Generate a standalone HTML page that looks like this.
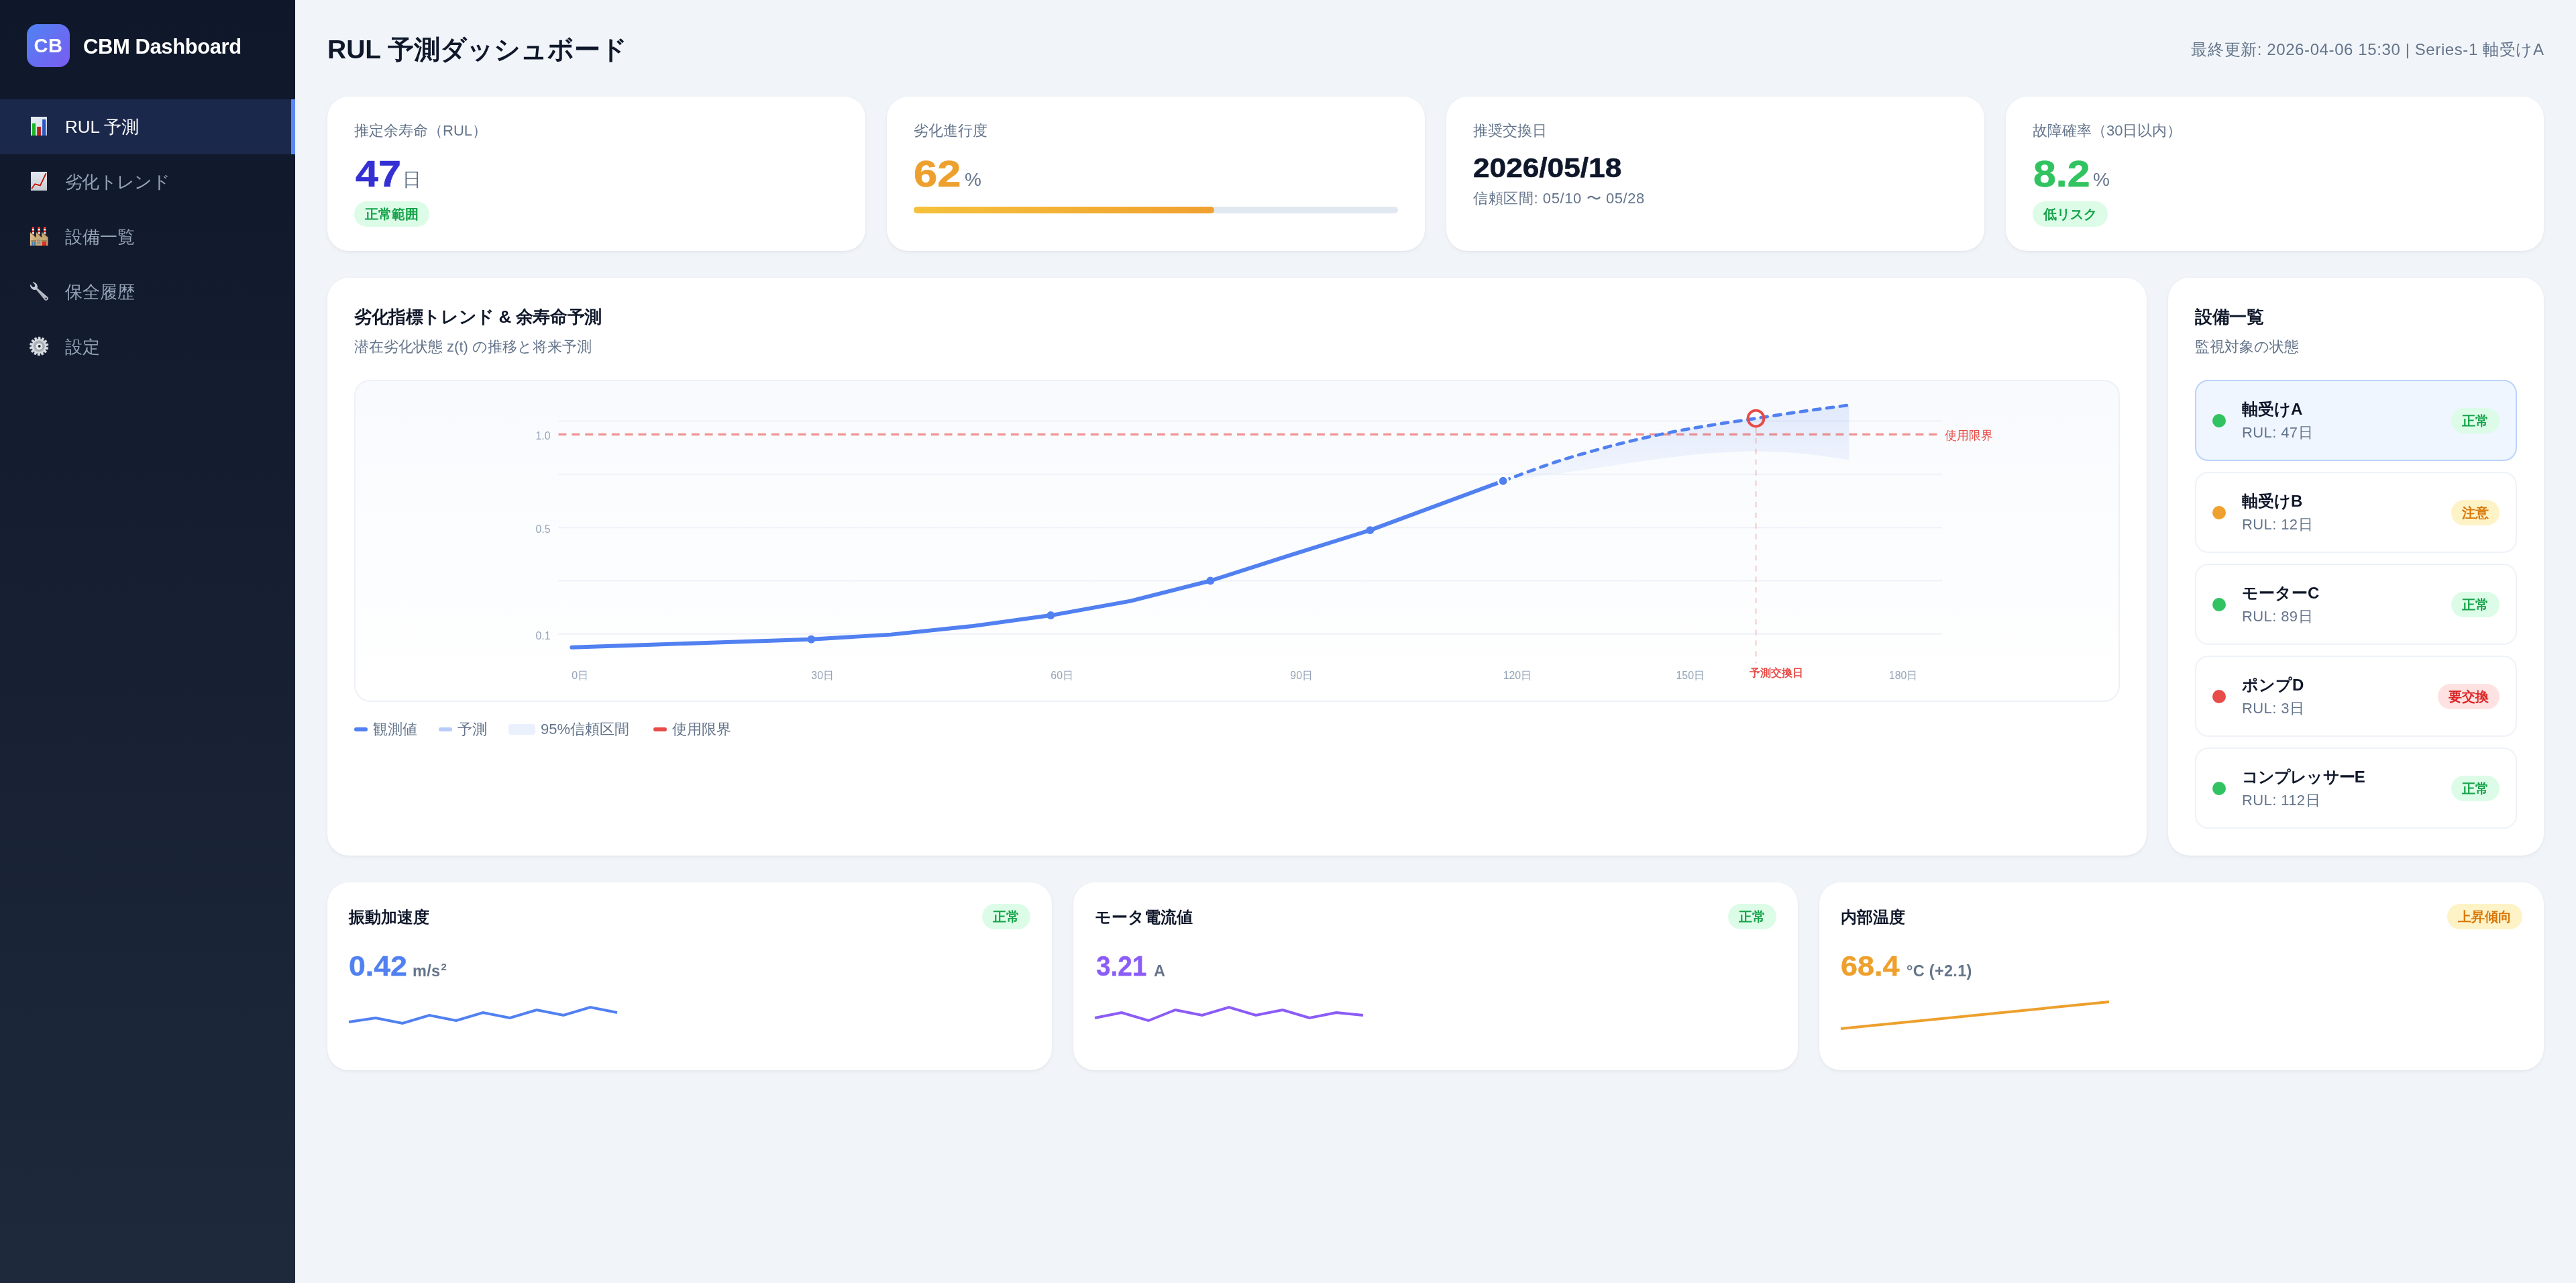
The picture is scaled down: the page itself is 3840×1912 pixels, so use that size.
<!DOCTYPE html>
<html lang="ja">
<head>
<meta charset="utf-8">
<title>CBM Dashboard</title>
<style>
*{box-sizing:border-box;margin:0;padding:0}
html{background:#f1f5f9}
html,body{width:3840px;height:1912px;overflow:hidden}
body{font-family:"Liberation Sans",sans-serif;background:#f1f5f9;color:#0f172a;position:relative;will-change:transform}
.abs{position:absolute;white-space:nowrap}
/* ---------- sidebar ---------- */
.side{position:absolute;left:0;top:0;width:440px;height:1912px;background:linear-gradient(180deg,#0f172a 0%,#1e293b 100%)}
.logo{position:absolute;left:40px;top:36px;width:64px;height:64px;border-radius:16px;background:linear-gradient(135deg,#4f83f3 0%,#7a5cf0 100%);color:#fff;font-weight:700;font-size:29px;line-height:64px;text-align:center;letter-spacing:0.5px}
.brand{position:absolute;left:124px;top:38px;height:64px;line-height:64px;color:#fff;font-weight:700;font-size:31px;white-space:nowrap;letter-spacing:-0.42px}
.nav{position:absolute;left:0;width:440px;height:82px;color:#94a3b8;font-size:26px;line-height:82px;white-space:nowrap}
.nav span{position:absolute;left:97px;top:0}
.nav svg{position:absolute;left:42px;top:24px;width:32px;height:32px}
.nav.on{background:rgba(79,125,240,.16);color:#fff;border-right:6px solid #5a88f5}
/* ---------- header ---------- */
.h1{left:488px;top:46px;font-size:39px;line-height:56px;font-weight:700;color:#0f172a}
.meta{right:48px;top:57px;font-size:24px;line-height:34px;color:#64748b;letter-spacing:.6px;margin-right:-.6px}
/* ---------- cards ---------- */
.card{position:absolute;background:#fff;border-radius:32px;box-shadow:0 2px 6px rgba(15,23,42,.05),0 1px 2px rgba(15,23,42,.03)}
.lbl{font-size:22px;line-height:30px;color:#64748b}
.big{font-size:56px;line-height:64px;font-weight:700;-webkit-text-stroke:.7px currentColor;transform-origin:0 50%}
.unit{font-size:28px;line-height:34px;color:#64748b}
.badge{position:absolute;height:38px;line-height:38px;border-radius:19px;padding:0 16px;font-size:20px;font-weight:700;white-space:nowrap}
.ttl{letter-spacing:-.4px;font-size:26px;line-height:36px;font-weight:700;color:#0f172a}
.plot{position:absolute;left:40px;top:152px;width:2632px;height:480px;border:2px solid #edf1f7;border-radius:24px;background:linear-gradient(180deg,#f8fafd 0%,#ffffff 100%);overflow:hidden}
.lg{position:absolute;top:657px;height:32px;line-height:32px;font-size:22px;color:#64748b;white-space:nowrap;display:flex;align-items:center}
.lg i{display:inline-block;margin-right:8px;flex:none}
.eq{position:absolute;left:40px;width:480px;height:121px;border:2px solid #eef2f8;border-radius:20px;background:#fff}
.eq.on{background:#eff6ff;border-color:#bcd3fa}
.dot{position:absolute;left:24px;top:49px;width:20px;height:20px;border-radius:50%}
.en{left:68px;top:26px;font-size:24px;line-height:32px;font-weight:700;color:#0f172a}
.er{left:68px;top:62px;font-size:22px;line-height:30px;color:#64748b;letter-spacing:.4px}
.st{font-size:24px;line-height:32px;font-weight:700;color:#0f172a}
.sv{font-size:42px;line-height:52px;font-weight:700;-webkit-text-stroke:.4px currentColor;transform-origin:0 50%}
.su{font-size:23.5px;line-height:30px;font-weight:700;color:#64748b;letter-spacing:.3px}
.su sup{font-size:15px;line-height:1;vertical-align:baseline;position:relative;top:-9px;margin-left:1px}
.g{background:#dcfce7;color:#16a34a}
.y{background:#fef3c7;color:#d97706}
.r{background:#fee2e2;color:#dc2626}
</style>
</head>
<body>

<!-- ================= SIDEBAR ================= -->
<div class="side">
  <div class="logo">CB</div>
  <div class="brand">CBM Dashboard</div>

  <div class="nav on" style="top:148px"><svg viewBox="0 0 32 32"><defs><linearGradient id="pp" x1="0" y1="0" x2="1" y2="1"><stop offset="0" stop-color="#e9eef4"/><stop offset=".6" stop-color="#dbe2eb"/><stop offset="1" stop-color="#b9c1cf"/></linearGradient></defs><rect x="4" y="2" width="24" height="28" fill="url(#pp)"/><rect x="5.9" y="11.8" width="5.2" height="18.2" fill="#1cb427"/><rect x="13.2" y="16.9" width="5.7" height="13.1" fill="#b32117"/><rect x="21.1" y="6" width="5.1" height="24" fill="#2c57c4"/></svg><span>RUL 予測</span></div>
  <div class="nav" style="top:230px"><svg viewBox="0 0 32 32"><defs><linearGradient id="pq" x1="0" y1="0" x2="0" y2="1"><stop offset="0" stop-color="#e4e8ef"/><stop offset="1" stop-color="#c6cbd3"/></linearGradient></defs><rect x="4" y="2" width="24" height="28" fill="url(#pq)"/><polyline points="5.4,26.9 10.1,20.2 18,22.5 26.4,4.8" fill="none" stroke="#eaf6fa" stroke-width="3.4" stroke-linejoin="round" stroke-linecap="round" opacity=".8"/><polyline points="5.4,26.9 10.1,20.2 18,22.5 26.4,4.8" fill="none" stroke="#be1c0e" stroke-width="2" stroke-linejoin="round" stroke-linecap="round"/></svg><span style="letter-spacing:-.7px">劣化トレンド</span></div>
  <div class="nav" style="top:312px"><svg viewBox="0 0 32 32"><defs><linearGradient id="tn" x1="0" y1="0" x2="1" y2="0"><stop offset="0" stop-color="#e6c38d"/><stop offset=".25" stop-color="#cbae7e"/><stop offset="1" stop-color="#c2a472"/></linearGradient></defs><rect x="5.80" y="2.00" width="3.20" height="3.00" fill="#f23a2a"/><rect x="5.80" y="5.00" width="3.20" height="2.70" fill="#f4f7f8"/><rect x="5.80" y="7.70" width="3.20" height="2.40" fill="#ee2b1e"/><rect x="5.80" y="10.10" width="3.20" height="2.60" fill="#eef1f3"/><rect x="5.80" y="12.70" width="3.20" height="2.50" fill="#d9281c"/><rect x="14.50" y="2.00" width="3.20" height="3.00" fill="#f23a2a"/><rect x="14.50" y="5.00" width="3.20" height="2.70" fill="#f4f7f8"/><rect x="14.50" y="7.70" width="3.20" height="2.40" fill="#ee2b1e"/><rect x="14.50" y="10.10" width="3.20" height="2.60" fill="#eef1f3"/><rect x="14.50" y="12.70" width="3.20" height="2.50" fill="#d9281c"/><rect x="23.10" y="2.00" width="3.20" height="3.00" fill="#f23a2a"/><rect x="23.10" y="5.00" width="3.20" height="2.70" fill="#f4f7f8"/><rect x="23.10" y="7.70" width="3.20" height="2.40" fill="#ee2b1e"/><rect x="23.10" y="10.10" width="3.20" height="2.60" fill="#eef1f3"/><rect x="23.10" y="12.70" width="3.20" height="2.50" fill="#d9281c"/><path d="M2.9,30 L2.9,10.1 L11.8,18 L11.8,10.1 L20.2,18 L20.2,10.1 L29.6,17.8 L29.4,30 Z" fill="url(#tn)"/><path d="M2.9,10.1 L11.8,18 M11.8,10.1 L20.2,18 M20.2,10.1 L29.6,17.8" stroke="#7d5d33" stroke-width=".8" fill="none"/><rect x="4.2" y="22.1" width="7.8" height="1.5" fill="#977a48"/><rect x="19.6" y="22.1" width="8.3" height="1.5" fill="#977a48"/><rect x="5.1" y="24" width="6" height="6" fill="#4a7ba8"/><rect x="7.4" y="24" width="1.4" height="6" fill="#8fa3ad"/><rect x="20.9" y="24" width="6.2" height="6" fill="#e12d23"/><rect x="13.7" y="21.3" width="1.6" height="2.6" rx=".5" fill="#4f7fb0"/><rect x="16.6" y="21.3" width="1.6" height="2.6" rx=".5" fill="#4f7fb0"/><rect x="13.7" y="25" width="1.6" height="2.6" rx=".5" fill="#4f7fb0"/><rect x="16.6" y="25" width="1.6" height="2.6" rx=".5" fill="#4f7fb0"/></svg><span>設備一覧</span></div>
  <div class="nav" style="top:394px"><svg viewBox="0 0 32 32"><defs><linearGradient id="wh" x1="1" y1="0" x2="0" y2="1"><stop offset="0" stop-color="#cdd5df"/><stop offset=".45" stop-color="#b7bfc9"/><stop offset="1" stop-color="#8b726e"/></linearGradient></defs><path d="M11.3,13.0 L13.3,11.0 L28.9,24.4 A3,3 0 1 1 24.5,28.9 Z" fill="url(#wh)"/><circle cx="26.7" cy="26.8" r="1.25" fill="#141a2e"/><path d="M7.1,2.6 C10.9,3 13.7,5.6 13.9,9 C14.1,12.4 11.3,14.5 8.4,13.9 C5.5,13.3 3.2,10.5 2.8,6.8 L4.1,6.2 C5.2,8.9 7.4,10.6 9.3,9.6 C11.1,8.6 10.4,5.9 8.2,4.2 L6.4,3.1 Z" fill="#c3ccd7"/></svg><span>保全履歴</span></div>
  <div class="nav" style="top:476px"><svg viewBox="0 0 32 32"><defs><radialGradient id="gb" cx=".5" cy=".5" r=".5"><stop offset="0" stop-color="#c4c8ce"/><stop offset=".75" stop-color="#aeb3ba"/><stop offset="1" stop-color="#bfc3ca"/></radialGradient></defs><path d="M14.84,5.69 L15.18,2.14 L18.05,2.22 L18.18,5.79 L19.44,6.12 L21.30,3.07 L23.84,4.39 L22.41,7.66 L23.41,8.51 L26.40,6.56 L28.12,8.85 L25.42,11.18 L25.95,12.38 L29.49,11.92 L30.04,14.73 L26.59,15.66 L26.56,16.96 L29.94,18.09 L29.22,20.87 L25.71,20.20 L25.11,21.36 L27.67,23.85 L25.82,26.03 L22.95,23.91 L21.90,24.70 L23.13,28.05 L20.51,29.21 L18.85,26.06 L17.56,26.31 L17.22,29.86 L14.35,29.78 L14.22,26.21 L12.96,25.88 L11.10,28.93 L8.56,27.61 L9.99,24.34 L8.99,23.49 L6.00,25.44 L4.28,23.15 L6.98,20.82 L6.45,19.62 L2.91,20.08 L2.36,17.27 L5.81,16.34 L5.84,15.04 L2.46,13.91 L3.18,11.13 L6.69,11.80 L7.29,10.64 L4.73,8.15 L6.58,5.97 L9.45,8.09 L10.50,7.30 L9.27,3.95 L11.89,2.79 L13.55,5.94Z" fill="#d9dde4" stroke="#d9dde4" stroke-width=".6" stroke-linejoin="round"/><circle cx="16.2" cy="16" r="10.6" fill="#d9dde4"/><circle cx="16.2" cy="16" r="9.1" fill="url(#gb)"/><circle cx="16.2" cy="16" r="6.4" fill="none" stroke="#999ea6" stroke-width=".9"/><circle cx="16.4" cy="16.3" r="4.6" fill="#e9ecf0"/><circle cx="16.7" cy="16" r="2" fill="#24232f"/></svg><span>設定</span></div>
</div>

<!-- ================= HEADER ================= -->
<div class="abs h1">RUL 予測ダッシュボード</div>
<div class="abs meta">最終更新: 2026-04-06 15:30 | Series-1 軸受けA</div>

<!-- ================= KPI ROW ================= -->
<div class="card" style="left:488px;top:144px;width:802px;height:230px">
  <div class="abs lbl" style="left:40px;top:36px">推定余寿命（RUL）</div>
  <div class="abs big" style="left:42px;top:83px;color:#3430d4;transform:scaleX(1.09)">47</div>
  <div class="abs unit" style="left:112px;top:107px">日</div>
  <div class="badge g" style="left:40px;top:156px">正常範囲</div>
</div>

<div class="card" style="left:1322px;top:144px;width:802px;height:230px">
  <div class="abs lbl" style="left:40px;top:36px">劣化進行度</div>
  <div class="abs big" style="left:40px;top:83px;color:#eda02d;transform:scaleX(1.13)">62</div>
  <div class="abs unit" style="left:116px;top:107px">%</div>
  <div class="abs" style="left:40px;top:164px;width:722px;height:10px;border-radius:5px;background:#e2e8f0">
    <div style="width:448px;height:10px;border-radius:5px;background:linear-gradient(90deg,#f5c13b,#f0a030)"></div>
  </div>
</div>

<div class="card" style="left:2156px;top:144px;width:802px;height:230px">
  <div class="abs lbl" style="left:40px;top:36px">推奨交換日</div>
  <div class="abs" style="left:40px;top:82px;font-size:40px;line-height:48px;font-weight:700;color:#0f172a;-webkit-text-stroke:.6px #0f172a;transform:scaleX(1.105);transform-origin:0 50%">2026/05/18</div>
  <div class="abs lbl" style="left:40px;top:137px;letter-spacing:.6px">信頼区間: 05/10 〜 05/28</div>
</div>

<div class="card" style="left:2990px;top:144px;width:802px;height:230px">
  <div class="abs lbl" style="left:40px;top:36px">故障確率（30日以内）</div>
  <div class="abs big" style="left:41px;top:83px;color:#30c360;transform:scaleX(1.085)">8.2</div>
  <div class="abs unit" style="left:130px;top:107px">%</div>
  <div class="badge g" style="left:40px;top:156px">低リスク</div>
</div>

<!-- ================= MAIN CHART CARD ================= -->
<div class="card" id="chartcard" style="left:488px;top:414px;width:2712px;height:861px">
  <div class="abs ttl" style="left:40px;top:40px">劣化指標トレンド &amp; 余寿命予測</div>
  <div class="abs lbl" style="left:40px;top:88px">潜在劣化状態 z(t) の推移と将来予測</div>
  <div class="plot">
    <svg viewBox="0 0 600 120" width="2380" height="476" style="position:absolute;left:124px;top:0" font-family="Liberation Sans, sans-serif">
      <defs>
        <linearGradient id="band" x1="0" y1="0" x2="0" y2="1">
          <stop offset="0" stop-color="#5180f0" stop-opacity=".14"/>
          <stop offset="1" stop-color="#5180f0" stop-opacity=".05"/>
        </linearGradient>
      </defs>
      <g stroke="#eef2f8" stroke-width=".5">
        <line x1="45" y1="15" x2="565" y2="15"/>
        <line x1="45" y1="35" x2="565" y2="35"/>
        <line x1="45" y1="55" x2="565" y2="55"/>
        <line x1="45" y1="75" x2="565" y2="75"/>
        <line x1="45" y1="95" x2="565" y2="95"/>
      </g>
      <path fill="url(#band)" d="M400.00,37.50 C403.18,36.35 413.47,32.48 419.10,30.60 C424.73,28.72 428.92,27.57 433.80,26.20 C438.68,24.83 443.52,23.57 448.40,22.40 C453.28,21.23 458.20,20.17 463.10,19.20 C468.00,18.23 472.48,17.47 477.80,16.60 C483.12,15.73 489.13,14.88 495.00,14.00 C500.87,13.12 507.17,12.13 513.00,11.30 C518.83,10.47 527.17,9.38 530.00,9.00 L530,29.7 C528.15,29.42 522.72,28.48 518.90,28.00 C515.08,27.52 511.08,27.07 507.10,26.80 C503.12,26.53 497.93,26.45 495.00,26.40 C492.07,26.35 493.35,26.30 489.50,26.50 C485.65,26.70 478.75,26.92 471.90,27.60 C465.05,28.28 456.22,29.52 448.40,30.60 C440.58,31.68 433.07,32.95 425.00,34.10 C416.93,35.25 404.17,36.93 400.00,37.50 Z"/>
      <line x1="45" y1="20" x2="565" y2="20" stroke="#e74c47" stroke-opacity=".6" stroke-width=".8" stroke-dasharray="3 2"/>
      <line x1="495" y1="17.4" x2="495" y2="106" stroke="#e74c47" stroke-opacity=".3" stroke-width=".5" stroke-dasharray="2 2"/>
      <polyline fill="none" stroke="#5180f0" stroke-width="1.5" stroke-linecap="round" stroke-linejoin="round" points="50,100 80,99 110,98 140,97 170,95.2 200,92.1 230,88 260,82.6 290,75 320,65.4 350,56 400,37.5"/>
      <path fill="none" stroke="#5180f0" stroke-width="1.2" stroke-linecap="round" stroke-dasharray="2.5 2.5" d="M400.00,37.50 C403.18,36.35 413.47,32.48 419.10,30.60 C424.73,28.72 428.92,27.57 433.80,26.20 C438.68,24.83 443.52,23.57 448.40,22.40 C453.28,21.23 458.20,20.17 463.10,19.20 C468.00,18.23 472.48,17.47 477.80,16.60 C483.12,15.73 489.13,14.88 495.00,14.00 C500.87,13.12 507.17,12.13 513.00,11.30 C518.83,10.47 527.17,9.38 530.00,9.00"/>
      <g fill="#5180f0">
        <circle cx="140" cy="97" r="1.5"/>
        <circle cx="230" cy="88" r="1.5"/>
        <circle cx="290" cy="75" r="1.5"/>
        <circle cx="350" cy="56" r="1.5"/>
        <circle cx="400" cy="37.5" r="1.85" stroke="#fff" stroke-width=".7"/>
      </g>
      <circle cx="495" cy="14" r="3" fill="none" stroke="#e74c47" stroke-width="1"/>
      <g font-size="4" fill="#94a3b8">
        <text x="42" y="22" text-anchor="end">1.0</text>
        <text x="42" y="57" text-anchor="end">0.5</text>
        <text x="42" y="97" text-anchor="end">0.1</text>
        <text x="50" y="112">0日</text>
        <text x="140" y="112">30日</text>
        <text x="230" y="112">60日</text>
        <text x="320" y="112">90日</text>
        <text x="400" y="112">120日</text>
        <text x="465" y="112">150日</text>
        <text x="545" y="112">180日</text>
      </g>
      <text x="566" y="22" font-size="4.5" fill="#e74c47">使用限界</text>
      <text x="492.5" y="111" font-size="4" font-weight="700" fill="#e74c47">予測交換日</text>
    </svg>
  </div>
  <div class="lg" style="left:40px"><i style="width:20px;height:6px;border-radius:3px;background:#5180f0"></i>観測値</div>
  <div class="lg" style="left:166px"><i style="width:20px;height:6px;border-radius:3px;background:#b9cbf9"></i>予測</div>
  <div class="lg" style="left:270px"><i style="width:40px;height:16px;border-radius:4px;background:#ebf0fd"></i>95%信頼区間</div>
  <div class="lg" style="left:486px"><i style="width:20px;height:6px;border-radius:3px;background:#e74c47"></i>使用限界</div>
</div>

<!-- ================= EQUIPMENT LIST ================= -->
<div class="card" id="equip" style="left:3232px;top:414px;width:560px;height:861px">
  <div class="abs ttl" style="left:40px;top:40px">設備一覧</div>
  <div class="abs lbl" style="left:40px;top:88px">監視対象の状態</div>
  <div class="eq on" style="top:152px">
    <i class="dot" style="background:#31c361"></i>
    <div class="abs en">軸受けA</div>
    <div class="abs er">RUL: 47日</div>
    <div class="badge g" style="right:24px;top:40px">正常</div>
  </div>
  <div class="eq" style="top:289px">
    <i class="dot" style="background:#f0a02e"></i>
    <div class="abs en">軸受けB</div>
    <div class="abs er">RUL: 12日</div>
    <div class="badge y" style="right:24px;top:40px">注意</div>
  </div>
  <div class="eq" style="top:426px">
    <i class="dot" style="background:#31c361"></i>
    <div class="abs en">モーターC</div>
    <div class="abs er">RUL: 89日</div>
    <div class="badge g" style="right:24px;top:40px">正常</div>
  </div>
  <div class="eq" style="top:563px">
    <i class="dot" style="background:#e84c49"></i>
    <div class="abs en">ポンプD</div>
    <div class="abs er">RUL: 3日</div>
    <div class="badge r" style="right:24px;top:40px">要交換</div>
  </div>
  <div class="eq" style="top:700px">
    <i class="dot" style="background:#31c361"></i>
    <div class="abs en" style="letter-spacing:-.9px">コンプレッサーE</div>
    <div class="abs er">RUL: 112日</div>
    <div class="badge g" style="right:24px;top:40px">正常</div>
  </div>
</div>

<!-- ================= SENSOR ROW ================= -->
<div class="card" id="s1" style="left:488px;top:1315px;width:1080px;height:280px">
  <div class="abs st" style="left:32px;top:36px">振動加速度</div>
  <div class="badge g" style="right:32px;top:32px">正常</div>
  <div class="abs sv" style="left:32px;top:99px;color:#5180f0;transform:scaleX(1.063)">0.42</div>
  <div class="abs su" style="left:127px;top:117px">m/s<sup>2</sup></div>
  <svg viewBox="0 0 200 40" width="400" height="80" style="position:absolute;left:32px;top:148px;overflow:visible"><polyline fill="none" stroke="#5180f0" stroke-width="2" points="0,30 20,27 40,31 60,25 80,29 100,23 120,27 140,21 160,25 180,19 200,23"/></svg>
</div>
<div class="card" id="s2" style="left:1600px;top:1315px;width:1080px;height:280px">
  <div class="abs st" style="left:32px;top:36px">モータ電流値</div>
  <div class="badge g" style="right:32px;top:32px">正常</div>
  <div class="abs sv" style="left:33.5px;top:99px;color:#8b5cf6;transform:scaleX(0.92)">3.21</div>
  <div class="abs su" style="left:120px;top:117px">A</div>
  <svg viewBox="0 0 200 40" width="400" height="80" style="position:absolute;left:32px;top:148px;overflow:visible"><polyline fill="none" stroke="#8b5cf6" stroke-width="2" points="0,27 20,23 40,29 60,21 80,25 100,19 120,25 140,21 160,27 180,23 200,25"/></svg>
</div>
<div class="card" id="s3" style="left:2712px;top:1315px;width:1080px;height:280px">
  <div class="abs st" style="left:32px;top:36px">内部温度</div>
  <div class="badge y" style="right:32px;top:32px">上昇傾向</div>
  <div class="abs sv" style="left:32px;top:99px;color:#eda02d;transform:scaleX(1.069)">68.4</div>
  <div class="abs su" style="left:130px;top:117px">°C (+2.1)</div>
  <svg viewBox="0 0 200 40" width="400" height="80" style="position:absolute;left:32px;top:148px;overflow:visible"><polyline fill="none" stroke="#eda02d" stroke-width="2" points="0,35 200,15"/></svg>
</div>

<script>(function(){var w=window.innerWidth||3840;if(Math.abs(w-3840)>2){document.documentElement.style.zoom=w/3840;}})();</script>
</body>
</html>
